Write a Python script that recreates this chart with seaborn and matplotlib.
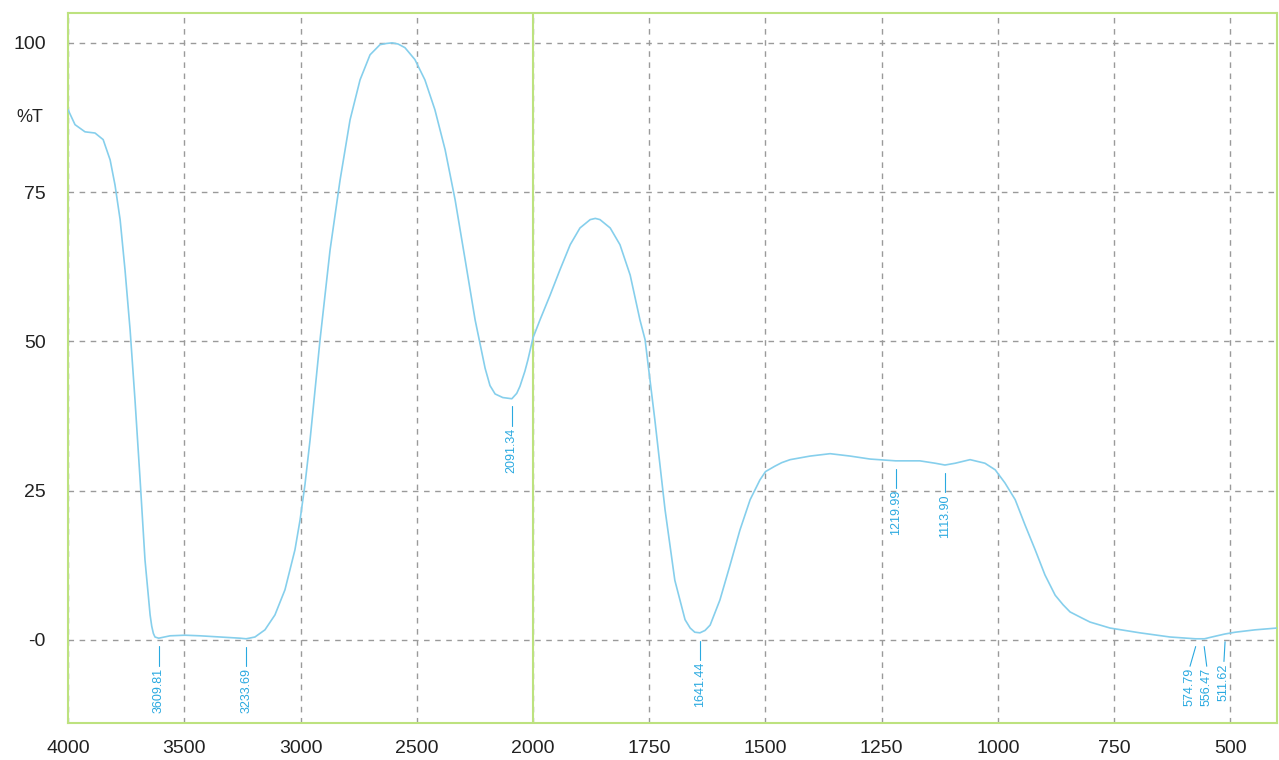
import numpy as np
import pandas as pd
import matplotlib
matplotlib.use('Agg')
import matplotlib.pyplot as plt
import matplotlib.transforms as mtransforms
import seaborn as sns

# FTIR spectrum (wavenumber cm-1, %T)
wavenumber = [4000, 3970, 3927, 3884, 3849, 3819, 3798, 3776, 3755, 3733, 3712, 3690,
              3669, 3647, 3640, 3633, 3626, 3610, 3561, 3497, 3432, 3346, 3260, 3234,
              3196, 3153, 3110, 3067, 3024, 3002, 2981, 2959, 2916, 2873, 2830, 2787,
              2744, 2701, 2658, 2630, 2606, 2580, 2551, 2508, 2465, 2422, 2378, 2335,
              2292, 2249, 2206, 2185, 2163, 2130, 2091, 2070, 2056, 2035, 2022, 2000,
              1985, 1963, 1942, 1920, 1899, 1877, 1866, 1856, 1834, 1813, 1791, 1770,
              1759, 1738, 1716, 1695, 1673, 1662, 1652, 1641, 1630, 1619, 1598, 1576,
              1555, 1533, 1512, 1500, 1480, 1465, 1447, 1404, 1361, 1318, 1275, 1220,
              1168, 1135, 1114, 1092, 1060, 1028, 1006, 985, 963, 942, 920, 899,
              877, 860, 845, 820, 802, 759, 695, 630, 575, 556, 540, 512, 490, 447, 400]
transmittance = [88.8, 86.3, 85.1, 84.9, 83.8, 80.4, 76.2, 70.4, 62.0, 51.9, 40.2, 26.8,
                 13.4, 4.2, 2.3, 1.1, 0.5, 0.3, 0.7, 0.8, 0.7, 0.5, 0.3, 0.2,
                 0.5, 1.7, 4.2, 8.4, 15.1, 20.1, 26.0, 33.5, 50.3, 65.3, 77.0, 87.1,
                 93.8, 98.0, 99.7, 99.9, 100.0, 99.8, 99.2, 97.2, 93.8, 88.8, 82.1, 73.7,
                 63.7, 53.6, 45.5, 42.6, 41.2, 40.6, 40.4, 41.3, 42.5, 45.0, 46.9, 50.6,
                 53.6, 57.8, 62.0, 66.2, 69.0, 70.4, 70.6, 70.4, 69.0, 66.2, 61.1, 53.6,
                 50.3, 36.9, 21.8, 10.0, 3.4, 2.0, 1.3, 1.2, 1.6, 2.5, 6.7, 12.6,
                 18.4, 23.5, 26.8, 28.2, 29.1, 29.7, 30.2, 30.8, 31.2, 30.8, 30.3, 30.0,
                 30.0, 29.6, 29.3, 29.6, 30.2, 29.6, 28.5, 26.3, 23.5, 19.3, 15.1, 10.9,
                 7.5, 5.9, 4.7, 3.7, 3.0, 2.0, 1.2, 0.5, 0.2, 0.2, 0.5, 1.0, 1.3, 1.7, 2.0]

peak_pos = [3609.81, 3233.69, 2091.34, 1641.44, 1219.99, 1113.90, 574.79, 556.47, 511.62]
peak_text = ['3609.81', '3233.69', '2091.34', '1641.44', '1219.99', '1113.90',
             '574.79', '556.47', '511.62']

x_major = [4000, 3500, 3000, 2500, 2000, 1750, 1500, 1250, 1000, 750, 500]
y_major = [0, 25, 50, 75, 100]
y_labels = ['-0', '25', '50', '75', '100']

sns.set_style('white')
plt.rcParams['font.family'] = ['Liberation Sans', 'DejaVu Sans']

green = '#bde27f'
grid_gray = '#9a9a9a'
curve_col = '#86cfec'
label_col = '#2aa9e0'


# expanded x scale below 2000 cm-1 (2x)
def fwd(x):
    x = np.asarray(x, dtype=float)
    return np.where(x > 2000, 2000 + (x - 2000) / 2, x)


def inv(u):
    u = np.asarray(u, dtype=float)
    return np.where(u > 2000, 2000 + (u - 2000) * 2, u)


fig = plt.figure(figsize=(12.79, 7.6), dpi=100)
ax = fig.add_axes([0.0532, 0.0487, 0.9452, 0.9342])

df = pd.DataFrame({'wn': wavenumber, 't': transmittance})
sns.lineplot(data=df, x='wn', y='t', ax=ax, color=curve_col, linewidth=1.2, zorder=3)

ax.set_xscale('function', functions=(fwd, inv))
ax.set_xlim(4000, 400)
ax.set_ylim(-13.9, 105)

ax.set_xticks(x_major)
ax.set_xticklabels([str(v) for v in x_major])
ax.set_xticks(list(range(3900, 2000, -100)) + list(range(1950, 400, -50)), minor=True)
ax.set_yticks(y_major)
ax.set_yticklabels(y_labels)
ax.set_yticks(list(range(-10, 105, 5)), minor=True)
ax.set_xlabel('')
ax.set_ylabel('')

ax.grid(True, which='major', color=grid_gray, linestyle=(0, (4, 4)), linewidth=1)
ax.axvline(2000, color=green, lw=1.5, zorder=2)

for s in ax.spines.values():
    s.set_color(green)
    s.set_linewidth(1.5)

ax.tick_params(axis='x', which='major', direction='out', length=4, color=grid_gray,
               labelsize=14, pad=8, labelcolor='#222222')
ax.tick_params(axis='x', which='minor', direction='out', length=3, color=grid_gray)
ax.tick_params(axis='y', which='major', direction='out', length=14, width=1.5, color=green,
               labelsize=14, pad=2, labelcolor='#222222')
ax.tick_params(axis='y', which='minor', direction='out', length=6, color=grid_gray)

trans = mtransforms.blended_transform_factory(ax.transAxes, ax.transData)
ax.text(-0.0207, 87.5, '%T', transform=trans, ha='right', va='center',
        fontsize=13, color='#222222')

# peak annotations (the three crowded ones are spread apart)
wn_sorted = np.array(wavenumber[::-1], dtype=float)
t_sorted = np.array(transmittance[::-1], dtype=float)
label_x = list(peak_pos)
label_x[6] = 587
label_x[7] = 551
label_x[8] = 514
for p, lx, txt in zip(peak_pos, label_x, peak_text):
    yp = np.interp(p, wn_sorted, t_sorted)
    ax.plot([p, lx], [yp - 1.3, yp - 4.6], color=label_col, lw=0.8, zorder=4)
    ax.text(lx, yp - 4.9, txt, rotation=90, ha='center', va='top',
            fontsize=9, color=label_col, zorder=4)

fig.savefig('out.png', dpi=100)
